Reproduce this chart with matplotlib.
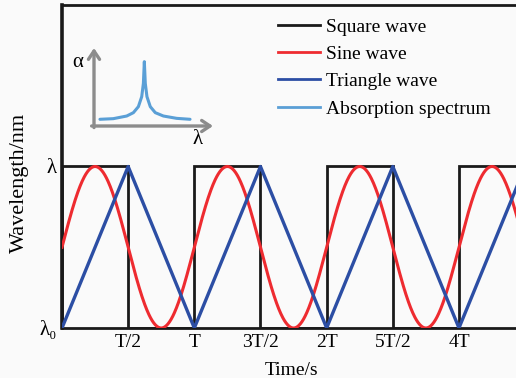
import numpy as np
import matplotlib
matplotlib.use("Agg")
import matplotlib.pyplot as plt
from matplotlib.lines import Line2D

plt.rcParams['font.family'] = ['Liberation Serif', 'DejaVu Serif']

# waveform definition (time in units of T, wavelength between lambda0=0 and lambda=1)
period = 1.0
level_low = 0.0
level_high = 1.0
n_periods = 4

# square wave corners within one period
square_t = [0.0, 0.0, 0.5, 0.5, 1.0]
square_y = [0.0, 1.0, 1.0, 0.0, 0.0]
# triangle wave corners within one period
tri_t = [0.0, 0.5, 1.0]
tri_y = [0.0, 1.0, 0.0]

# absorption spectrum (normalized inset coords)
abs_x = [0.050, 0.162, 0.275, 0.331, 0.373, 0.401, 0.415, 0.423,
         0.431, 0.445, 0.473, 0.515, 0.583, 0.695, 0.807]
abs_y = [0.086, 0.094, 0.128, 0.171, 0.248, 0.376, 0.547, 0.825,
         0.547, 0.376, 0.248, 0.171, 0.128, 0.098, 0.086]

xtick_pos = [0.5, 1.0, 1.5, 2.0, 2.5, 3.0]
xtick_labels = ['T/2', 'T', '3T/2', '2T', '5T/2', '4T']
ytick_pos = [level_low, level_high]
ytick_labels = ['λ\u2080', 'λ']

c_black = '#1a1a1a'
c_red = '#ee2b30'
c_blue = '#2c4ea4'
c_light = '#5a9fd6'
c_gray = '#8c8c8c'

fig = plt.figure(figsize=(5.16, 3.78), dpi=100)
fig.patch.set_facecolor('#fafafa')
ax = fig.add_axes([62 / 516, 1 - 328 / 378, 1 - 62 / 516 + 0.01, 323 / 378])
ax.set_facecolor('#fafafa')

# build repeated waves
sq_t, sq_y, tr_t, tr_y = [], [], [], []
for k in range(n_periods):
    sq_t += [k * period + t for t in square_t]
    sq_y += square_y
    tr_t += [k * period + t for t in tri_t]
    tr_y += tri_y
t = np.linspace(0, n_periods * period, 1000)
mid = (level_low + level_high) / 2
amp = (level_high - level_low) / 2
sine = mid + amp * np.sin(2 * np.pi * t / period)

ax.plot(sq_t, sq_y, color=c_black, lw=2.0, solid_joinstyle='miter', zorder=3)
ax.plot(t, sine, color=c_red, lw=2.2, zorder=4)
ax.plot(tr_t, tr_y, color=c_blue, lw=2.4, zorder=5)

ax.set_xlim(0, 3.47)
ax.set_ylim(0, 2.0)
ax.set_xticks(xtick_pos)
ax.set_xticklabels(xtick_labels, fontsize=14)
ax.set_yticks(ytick_pos)
ax.set_yticklabels(ytick_labels, fontsize=15)
ax.tick_params(length=0, pad=4)
ax.set_xlabel('Time/s', fontsize=14, labelpad=8)
ax.set_ylabel('Wavelength/nm', fontsize=16)
ax.yaxis.set_label_coords(-0.072, 0.45)
ax.spines['right'].set_visible(False)
ax.spines['left'].set_linewidth(2.6)
ax.spines['top'].set_linewidth(2.0)
ax.spines['bottom'].set_linewidth(2.0)
for s in ax.spines.values():
    s.set_color(c_black)

# inset absorption spectrum
ins = fig.add_axes([94 / 516, 1 - 126 / 378, 119 / 516, 78 / 378])
ins.set_xlim(0, 1)
ins.set_ylim(0, 1)
ins.axis('off')
ins.plot(abs_x, abs_y, color=c_light, lw=2.2, solid_capstyle='round')
arrow = dict(arrowstyle='->,head_length=0.6,head_width=0.4', color=c_gray, lw=2.4,
             shrinkA=0, shrinkB=0)
ins.annotate('', xy=(1.0, 0), xytext=(-0.02, 0), arrowprops=arrow)
ins.annotate('', xy=(0, 1.0), xytext=(0, -0.02), arrowprops=arrow)
ins.text(-0.14, 0.81, 'α', fontsize=15, ha='center', va='center')
ins.text(0.87, -0.17, 'λ', fontsize=15, ha='center', va='center')

handles = [Line2D([], [], color=c_black, lw=2),
           Line2D([], [], color=c_red, lw=2),
           Line2D([], [], color=c_blue, lw=2),
           Line2D([], [], color=c_light, lw=2)]
labels = ['Square wave', 'Sine wave', 'Triangle wave', 'Absorption spectrum']
ax.legend(handles, labels, loc='upper left', bbox_to_anchor=(278 / 516, 1 - 18 / 378),
          bbox_transform=fig.transFigure, frameon=False, fontsize=14,
          borderaxespad=0, borderpad=0, handlelength=2.15, handletextpad=0.3,
          labelspacing=0.5)

fig.savefig('out.png', dpi=100, facecolor=fig.get_facecolor())
